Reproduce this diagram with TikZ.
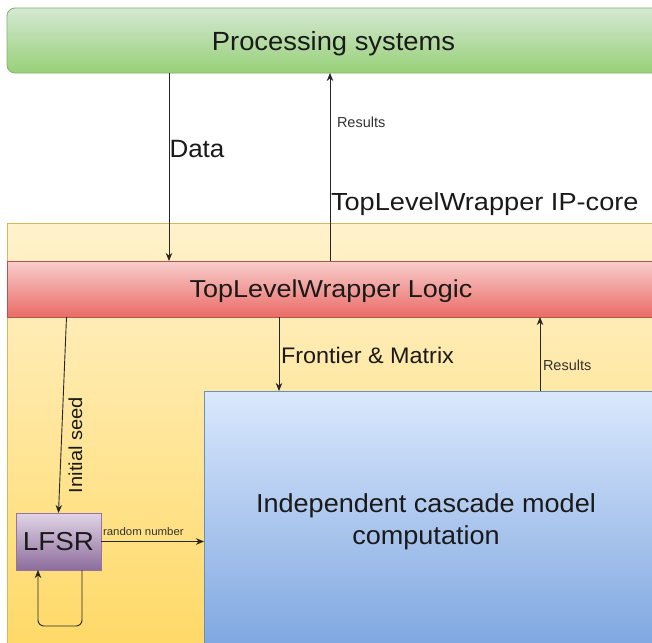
\documentclass[tikz,border=0pt]{standalone}
\usepackage{fontspec}
\setmainfont{Liberation Sans}
\newfontfamily\sA[FakeStretch=1.04]{Liberation Sans}
\newfontfamily\sB[FakeStretch=1.07]{Liberation Sans}
\newfontfamily\sC[FakeStretch=1.10]{Liberation Sans}
\usetikzlibrary{arrows.meta}
\definecolor{grT}{HTML}{D5E8D4}
\definecolor{grB}{HTML}{97D077}
\definecolor{grS}{HTML}{82B366}
\definecolor{yeT}{HTML}{FFF2CC}
\definecolor{yeB}{HTML}{FFD966}
\definecolor{yeS}{HTML}{D6B656}
\definecolor{reT}{HTML}{F8CECC}
\definecolor{reB}{HTML}{EA6B66}
\definecolor{reS}{HTML}{B85450}
\definecolor{blT}{HTML}{DAE8FC}
\definecolor{blB}{HTML}{7EA6E0}
\definecolor{blS}{HTML}{6C8EBF}
\definecolor{puT}{HTML}{E1D5E7}
\definecolor{puB}{HTML}{8C6C9C}
\definecolor{puS}{HTML}{9673A6}
\definecolor{txtc}{HTML}{1A1A1A}
\definecolor{linec}{HTML}{262626}
\begin{document}
\begin{tikzpicture}[x=1pt,y=-1pt,
  box/.style={draw, rectangle, inner sep=0pt, outer sep=0pt, anchor=north west,
              line width=0.8pt, text depth=0pt, text=txtc},
  arr/.style={-{Stealth[length=8pt,width=6.5pt,inset=2.5pt]}, line width=0.9pt, draw=linec},
  txt/.style={inner sep=0pt, outer sep=0pt, text=txtc},
  small/.style={txt, text=black!80}]
\clip (0,0) rectangle (652,642);
\fill[white] (0,0) rectangle (652,642);
% boxes
\node[box, draw=grS, top color=grT, bottom color=grB, rounded corners=8pt,
      minimum width=653pt, minimum height=65pt,
      font=\sA\fontsize{26.3}{31}\selectfont] (ps) at (7,8) {Processing systems};
\node[box, draw=yeS, top color=yeT, bottom color=yeB,
      minimum width=660pt, minimum height=430pt] (wrap) at (7,223) {};
\node[box, draw=reS, top color=reT, bottom color=reB,
      minimum width=648pt, minimum height=56pt,
      font=\sC\fontsize{24.5}{29}\selectfont] (logic) at (7,261) {TopLevelWrapper Logic};
\node[box, draw=blS, top color=blT, bottom color=blB,
      minimum width=460pt, minimum height=260pt] (icm) at (204,391) {};
\node[txt, align=center, font=\sA\fontsize{26}{32}\selectfont] (icmtext) at (426,521.5)
      {Independent cascade model\\computation};
\node[box, draw=puS, top color=puT, bottom color=puB,
      minimum width=85pt, minimum height=57pt,
      font=\sB\fontsize{26}{31}\selectfont] (lfsr) at (16,513) {LFSR};
% labels
\node[txt, anchor=base west, font=\sC\fontsize{24.7}{29}\selectfont] (iplabel) at (331,210) {TopLevelWrapper IP-core};
\node[txt, anchor=base west, font=\sA\fontsize{25}{30}\selectfont] (datalabel) at (169.5,157) {Data};
\node[small, anchor=base west, font=\fontsize{14.5}{17}\selectfont] (res1label) at (337,127) {Results};
\node[txt, anchor=base west, font=\sA\fontsize{22.5}{27}\selectfont] (frlabel) at (281,363) {Frontier \& Matrix};
\node[small, anchor=base west, font=\fontsize{14.5}{17}\selectfont] (res2label) at (543,370.5) {Results};
\node[small, anchor=base west, font=\sA\fontsize{11}{13}\selectfont] (rnlabel) at (103,535) {random number};
\node[txt, rotate=90, font=\sB\fontsize{18.8}{22}\selectfont] (seedlabel) at (75.5,445) {Initial seed};
% helper coordinates
\coordinate (xData) at (169,0);
\coordinate (xRes) at (330,0);
\coordinate (xSeed) at (66.5,0);
\coordinate (xFr) at (279,0);
\coordinate (xRes2) at (540,0);
\coordinate (loopA) at (82,626);
\coordinate (loopB) at (38,626);
% connectors
\draw[arr] (ps.south -| xData) -- (logic.north -| xData);
\draw[arr] (logic.north -| xRes) -- (ps.south -| xRes);
\draw[arr] (logic.south -| xSeed) -- (lfsr.north);
\draw[arr] (logic.south -| xFr) -- (icm.north -| xFr);
\draw[arr] (icm.north -| xRes2) -- (logic.south -| xRes2);
\draw[arr] (lfsr.east) -- (lfsr.east -| icm.west);
\draw[arr, rounded corners=6pt] (lfsr.south -| loopA) -- (loopA) -- (loopB) -- (lfsr.south -| loopB);
\end{tikzpicture}
\end{document}
